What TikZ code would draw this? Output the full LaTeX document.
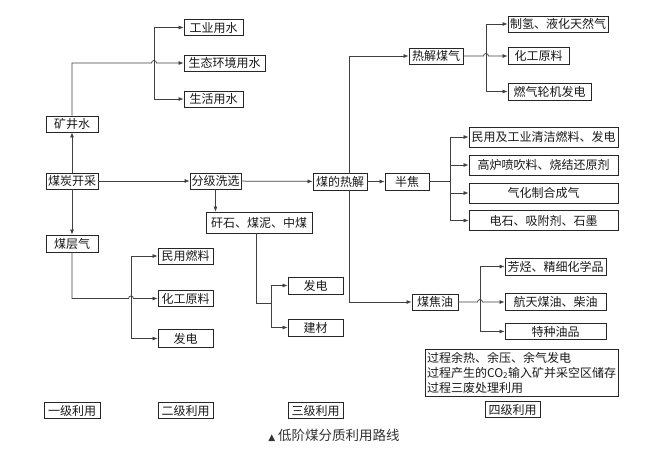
\documentclass[tikz,border=0pt]{standalone}
\usepackage{fontspec}
\setmainfont{Noto Sans CJK SC}
\newfontfamily\symfont{DejaVu Sans}
\usetikzlibrary{arrows.meta,shadows}
\begin{document}
\begin{tikzpicture}[x=1pt,y=-1pt,
  bx/.style={draw=black!85, line width=0.8pt, fill=white, inner sep=1pt,
    font=\fontsize{12}{13}\selectfont, text=black!90,
    drop shadow={shadow xshift=0.8pt,shadow yshift=-0.8pt,fill=black!55,opacity=1}},
  ln/.style={draw=black!75, line width=0.75pt},
  arr/.style={ln, -{Latex[length=5pt,width=4pt]}}]
\useasboundingbox (0,0) rectangle (658,448);

% level 1
\node[bx, minimum width=52pt, minimum height=16pt] (kjs) at (72,124) {矿井水};
\node[bx, minimum width=52pt, minimum height=16pt] (mtkc) at (72,181) {煤炭开采};
\node[bx, minimum width=52pt, minimum height=17pt] (mcq) at (72,243.5) {煤层气};

% water
\node[bx, minimum width=59pt, minimum height=16pt] (gyys) at (213.5,27.5) {工业用水};
\node[bx, minimum width=81pt, minimum height=16pt] (stys) at (224.5,63) {生态环境用水};
\node[bx, minimum width=59pt, minimum height=16pt] (shys) at (213.5,99) {生活用水};

% level 2
\node[bx, minimum width=51pt, minimum height=16pt] (fjxx) at (215.5,181) {分级洗选};
\node[bx, minimum width=106pt, minimum height=21pt] (gs) at (259,222.5) {矸石、煤泥、中煤};
\node[bx, minimum width=55pt, minimum height=16pt] (myrl) at (185.5,256) {民用燃料};
\node[bx, minimum width=55pt, minimum height=16pt] (hgyl1) at (185.5,298.5) {化工原料};
\node[bx, minimum width=55pt, minimum height=18pt] (fd1) at (185.5,338.5) {发电};

% level 3
\node[bx, minimum width=55pt, minimum height=17pt] (fd2) at (315.5,285.5) {发电};
\node[bx, minimum width=55pt, minimum height=17pt] (jc) at (315.5,327.5) {建材};
\node[bx, minimum width=54pt, minimum height=17pt] (mdrj) at (340,181.5) {煤的热解};

% level 4
\node[bx, minimum width=54pt, minimum height=16pt] (rjmq) at (436,56) {热解煤气};
\node[bx, minimum width=100pt, minimum height=16pt] (zq) at (558,24) {制氢、液化天然气};
\node[bx, minimum width=61pt, minimum height=17pt] (hgyl2) at (538.5,56) {化工原料};
\node[bx, minimum width=83pt, minimum height=17pt] (rqlj) at (549.5,91.5) {燃气轮机发电};
\node[bx, minimum width=44pt, minimum height=17pt] (bj) at (407,181.5) {半焦};
\node[bx, minimum width=149pt, minimum height=20pt] (s1) at (543.5,137) {民用及工业清洁燃料、发电};
\node[bx, minimum width=149pt, minimum height=20pt] (s2) at (543.5,165) {高炉喷吹料、烧结还原剂};
\node[bx, minimum width=149pt, minimum height=20pt] (s3) at (543.5,193) {气化制合成气};
\node[bx, minimum width=149pt, minimum height=20pt] (s4) at (543.5,220.5) {电石、吸附剂、石墨};
\node[bx, minimum width=46pt, minimum height=16pt] (mjy) at (435,302) {煤焦油};
\node[bx, minimum width=101pt, minimum height=17pt] (o1) at (555.5,266.5) {芳烃、精细化学品};
\node[bx, minimum width=101pt, minimum height=17pt] (o2) at (555.5,302) {航天煤油、柴油};
\node[bx, minimum width=101pt, minimum height=16pt] (o3) at (555.5,331.5) {特种油品};
\node[bx, text width=189pt, inner xsep=2pt, minimum height=47pt, align=left,
  font=\fontsize{12}{15}\selectfont] (note) at (521.5,372.5)
  {过程余热、余压、余气发电\\过程产生的CO\textsubscript{2}输入矿并采空区储存\\过程三废处理利用};

% level labels
\node[bx, minimum width=56pt, minimum height=16pt] (L1) at (72,410.5) {一级利用};
\node[bx, minimum width=55pt, minimum height=16pt] (L2) at (185.5,410.5) {二级利用};
\node[bx, minimum width=55pt, minimum height=16pt] (L3) at (315.5,410.5) {三级利用};
\node[bx, minimum width=55pt, minimum height=16pt] (L4) at (512.5,409.5) {四级利用};

\node[font=\fontsize{13.5}{15}\selectfont, text=black!80] (cap) at (334,435)
  {{\symfont\fontsize{9}{10}\selectfont ▲}\ 低阶煤分质利用路线};

% coordinates
\coordinate (j1) at (154,63);
\coordinate (j2) at (131,298.5);
\coordinate (j3) at (271,303);
\coordinate (g3) at (256,0);
\coordinate (v) at (349,0);
\coordinate (j4) at (486,56);
\coordinate (j5) at (450,181.5);
\coordinate (j6) at (480,302);

% mine water
\draw[arr] (mtkc.north) -- (kjs.south);
\draw[arr] (kjs.north) |- ([xshift=-2.5pt]j1) arc(180:0:2.5pt) -- (stys.west);
\draw[ln] (j1|-gyys.west) -- (j1|-shys.west);
\draw[arr] (j1|-gyys.west) -- (gyys.west);
\draw[arr] (j1|-shys.west) -- (shys.west);

% main line
\draw[arr] (mtkc) -- (fjxx);
\draw[arr] (mtkc) -- (mcq);
\draw[arr] (fjxx) -- (mdrj);
\draw[arr] (fjxx.south) -- (fjxx.south|-gs.north);

% coal bed gas
\draw[arr] (mcq.south) |- ([xshift=-2.5pt]j2) arc(180:0:2.5pt) -- (hgyl1.west);
\draw[ln] (j2|-myrl.west) -- (j2|-fd1.west);
\draw[arr] (j2|-myrl.west) -- (myrl.west);
\draw[arr] (j2|-fd1.west) -- (fd1.west);

% gangue
\draw[ln] (gs.south-|g3) |- (j3);
\draw[ln] (j3|-fd2.west) -- (j3|-jc.west);
\draw[arr] (j3|-fd2.west) -- (fd2.west);
\draw[arr] (j3|-jc.west) -- (jc.west);

% pyrolysis
\draw[arr] (mdrj.north-|v) |- (rjmq.west);
\draw[arr] (mdrj.south-|v) |- (mjy.west);
\draw[arr] (mdrj) -- (bj);

% pyrolysis gas
\draw[arr] (rjmq.east) -- ([xshift=-2.5pt]j4) arc(180:0:2.5pt) -- (hgyl2.west);
\draw[ln] (j4|-zq.west) -- (j4|-rqlj.west);
\draw[arr] (j4|-zq.west) -- (zq.west);
\draw[arr] (j4|-rqlj.west) -- (rqlj.west);

% semi-coke
\draw[ln] (bj.east) -- (j5);
\draw[ln] (j5|-s1.west) -- (j5|-s4.west);
\draw[arr] (j5|-s1.west) -- (s1.west);
\draw[arr] (j5|-s2.west) -- (s2.west);
\draw[arr] (j5|-s3.west) -- (s3.west);
\draw[arr] (j5|-s4.west) -- (s4.west);

% tar
\draw[arr] (mjy.east) -- ([xshift=-2.5pt]j6) arc(180:0:2.5pt) -- (o2.west);
\draw[ln] (j6|-o1.west) -- (j6|-o3.west);
\draw[arr] (j6|-o1.west) -- (o1.west);
\draw[arr] (j6|-o3.west) -- (o3.west);
\end{tikzpicture}
\end{document}
